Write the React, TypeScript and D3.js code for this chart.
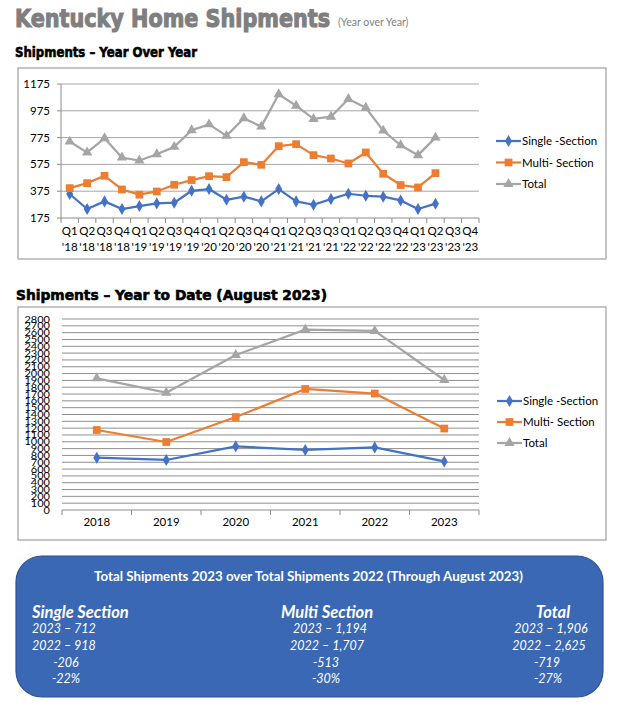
import * as d3 from "d3";

const QUARTERS = ["Q1", "Q2", "Q3", "Q4", "Q1", "Q2", "Q3", "Q4", "Q1", "Q2", "Q3", "Q4", "Q1", "Q2", "Q3", "Q3", "Q1", "Q2", "Q3", "Q4", "Q1", "Q2", "Q3", "Q4"];
const QUARTER_YEARS = ["'18", "'18", "'18", "'18", "'19", "'19", "'19", "'19", "'20", "'20", "'20", "'20", "'21", "'21", "'21", "'21", "'22", "'22", "'22", "'22", "'23", "'23", "'23", "'23"];

const Q_SINGLE = [354, 242, 299, 242, 264, 284, 289, 378, 391, 311, 334, 299, 391, 299, 274, 316, 356, 341, 334, 306, 242, 282];
const Q_MULTI = [398, 435, 490, 388, 349, 373, 423, 458, 487, 480, 592, 572, 711, 726, 644, 619, 582, 664, 505, 421, 403, 510];
const Q_TOTAL = [745, 664, 770, 626, 604, 651, 706, 830, 874, 788, 919, 857, 1098, 1013, 914, 931, 1063, 998, 827, 718, 644, 775];
const Q_TICKS = [175, 375, 575, 775, 975, 1175];

const YEARS = ["2018", "2019", "2020", "2021", "2022", "2023"];
const YTD_SINGLE = [767, 733, 933, 880, 918, 712];
const YTD_MULTI = [1173, 997, 1363, 1774, 1707, 1194];
const YTD_TOTAL = [1930, 1720, 2272, 2644, 2625, 1906];
const YTD_TICKS = d3.range(0, 2801, 100);

const SERIES_NAMES = ["Single -Section", "Multi- Section", "Total"];
const COLORS = ["#4472c4", "#ed7d31", "#a5a5a5"];
const SYMBOLS = [d3.symbolDiamond, d3.symbolSquare, d3.symbolTriangle];
const SYMBOL_SIZES = [42, 60, 46];

const SUMMARY_TITLE = "Total Shipments 2023 over Total Shipments 2022 (Through August 2023)";
const SUMMARY_HEADS = ["Single Section", "Multi Section", "Total"];
const SUMMARY_ROWS = [
  ["2023 – 712", "2022 – 918", "-206", "-22%"],
  ["2023 – 1,194", "2022 – 1,707", "-513", "-30%"],
  ["2023 – 1,906", "2022 – 2,625", "-719", "-27%"],
];

const FONT = "Lato, 'Open Sans', sans-serif";
const HEAVY = "'DejaVu Sans', sans-serif";
const GRID = "#a6a6a6";
const AXIS = "#8c8c8c";

function Marker({ i, x, y }: { i: number; x: number; y: number }) {
  const d = d3.symbol(SYMBOLS[i], SYMBOL_SIZES[i])() ?? "";
  return <path d={d} transform={`translate(${x},${y})`} fill={COLORS[i]} />;
}

function Legend({ x, y0, gap }: { x: number; y0: number; gap: number }) {
  return (
    <g>
      {SERIES_NAMES.map((name, i) => {
        const y = y0 + i * gap;
        return (
          <g key={name}>
            <line x1={x} x2={x + 25} y1={y} y2={y} stroke={COLORS[i]} strokeWidth={2.25} />
            <Marker i={i} x={x + 12.5} y={y} />
            <text x={x + 26} y={y + 4} fontSize={11.5} fontFamily={FONT} fill="#000">
              {name}
            </text>
          </g>
        );
      })}
    </g>
  );
}

function QuarterChart() {
  const left = 61;
  const right = 479;
  const top = 84;
  const bottom = 218;
  const idx = QUARTERS.map((_, i) => String(i));
  const x = d3.scaleBand().domain(idx).range([left, right]);
  const y = d3.scaleLinear().domain([175, 1175]).range([bottom, top]);
  const cx = (i: number) => (x(String(i)) ?? 0) + x.bandwidth() / 2;
  const series = [Q_SINGLE, Q_MULTI, Q_TOTAL];
  const line = d3
    .line<number>()
    .x((_, i) => cx(i))
    .y((v) => y(v));

  return (
    <g>
      <rect x={18} y={68} width={588} height={191} fill="#fff" stroke="#8c8c8c" strokeWidth={1} />
      {Q_TICKS.map((t) => (
        <g key={t}>
          <line x1={left} x2={right} y1={y(t)} y2={y(t)} stroke={t === 175 ? AXIS : GRID} strokeWidth={1} />
          <line x1={left - 4} x2={left} y1={y(t)} y2={y(t)} stroke={AXIS} />
          <text x={50} y={y(t) + 4} textAnchor="end" fontSize={11.5} fontFamily={FONT}>
            {t}
          </text>
        </g>
      ))}
      <line x1={left} x2={left} y1={top} y2={bottom} stroke={AXIS} />
      {d3.range(QUARTERS.length + 1).map((i) => {
        const tx = left + i * x.bandwidth();
        return <line key={i} x1={tx} x2={tx} y1={bottom} y2={bottom + 5} stroke={AXIS} />;
      })}
      {QUARTERS.map((q, i) => (
        <text key={i} x={cx(i)} textAnchor="middle" fontSize={11.5} fontFamily={FONT}>
          <tspan x={cx(i)} y={235}>{q}</tspan>
          <tspan x={cx(i)} y={251}>{QUARTER_YEARS[i]}</tspan>
        </text>
      ))}
      {series.map((vals, s) => (
        <g key={s}>
          <path d={line(vals) ?? ""} fill="none" stroke={COLORS[s]} strokeWidth={2.25} strokeLinejoin="round" />
          {vals.map((v, i) => (
            <Marker key={i} i={s} x={cx(i)} y={y(v)} />
          ))}
        </g>
      ))}
      <Legend x={496} y0={141} gap={21.5} />
    </g>
  );
}

function YtdChart() {
  const left = 62;
  const right = 479;
  const top = 319;
  const bottom = 510;
  const x = d3.scaleBand().domain(YEARS).range([left, right]);
  const y = d3.scaleLinear().domain([0, 2800]).range([bottom, top]);
  const cx = (yr: string) => (x(yr) ?? 0) + x.bandwidth() / 2;
  const series = [YTD_SINGLE, YTD_MULTI, YTD_TOTAL];
  const line = d3
    .line<number>()
    .x((_, i) => cx(YEARS[i]))
    .y((v) => y(v));

  return (
    <g>
      <rect x={18} y={307} width={588} height={233} fill="#fff" stroke="#8c8c8c" strokeWidth={1} />
      {YTD_TICKS.map((t) => (
        <g key={t}>
          <line x1={left} x2={right} y1={y(t)} y2={y(t)} stroke={t === 0 ? AXIS : "#8f8f8f"} strokeWidth={1} />
          {/* labels are packed tighter than their height, as in the source */}
          <text
            transform={`translate(50,${y(t) + 3.5}) scale(1,0.88)`}
            textAnchor="end"
            fontSize={11}
            fontFamily={FONT}
          >
            {t}
          </text>
        </g>
      ))}
      {d3.range(YEARS.length + 1).map((i) => {
        const tx = left + i * x.bandwidth();
        return <line key={i} x1={tx} x2={tx} y1={bottom} y2={bottom + 5} stroke={AXIS} />;
      })}
      {YEARS.map((yr) => (
        <text key={yr} x={cx(yr)} y={526} textAnchor="middle" fontSize={11.5} fontFamily={FONT}>
          {yr}
        </text>
      ))}
      {series.map((vals, s) => (
        <g key={s}>
          <path d={line(vals) ?? ""} fill="none" stroke={COLORS[s]} strokeWidth={2.25} strokeLinejoin="round" />
          {vals.map((v, i) => (
            <Marker key={i} i={s} x={cx(YEARS[i])} y={y(v)} />
          ))}
        </g>
      ))}
      <Legend x={497} y0={401} gap={21} />
    </g>
  );
}

function Summary() {
  const rowY = [633, 650, 667, 683];
  // per-column placement of the lines, as laid out in the source document
  const colX = [
    [32, 32, 66, 66],
    [330, 327, 326, 326],
    [551, 549, 547, 548],
  ];
  return (
    <g>
      <rect x={16} y={556} width={587} height={141} rx={26} fill="#3a68b5" stroke="#2f528f" strokeWidth={1.2} />
      <text
        x={94}
        y={581}
        fill="#fff"
        fontSize={12.8}
        fontWeight="bold"
        fontFamily={FONT}
        textLength={429}
        lengthAdjust="spacingAndGlyphs"
      >
        {SUMMARY_TITLE}
      </text>
      {SUMMARY_HEADS.map((h, c) => (
        <text
          key={h}
          x={c === 0 ? 32 : c === 1 ? 327 : 553}
          y={618}
          textAnchor={c === 0 ? "start" : "middle"}
          fill="#fff"
          fontSize={16.5}
          fontWeight="bold"
          fontStyle="italic"
          fontFamily={FONT}
        >
          {h}
        </text>
      ))}
      {SUMMARY_ROWS.map((rows, c) =>
        rows.map((r, k) => (
          <text
            key={`${c}-${k}`}
            x={colX[c][k]}
            y={rowY[k]}
            textAnchor={c === 0 && k < 2 ? "start" : "middle"}
            fill="#fff"
            fontSize={12.5}
            fontStyle="italic"
            fontFamily={FONT}
          >
            {r}
          </text>
        ))
      )}
    </g>
  );
}

export default function App() {
  return (
    <svg width={626} height={711} style={{ position: "absolute", left: 0, top: 0, background: "#fff" }}>
      <text
        transform="translate(15,27) scale(1,1.14)"
        fill="#7f7f7f"
        stroke="#7f7f7f"
        strokeWidth={1}
        fontSize={21}
        fontWeight="bold"
        fontFamily={HEAVY}
        textLength={315}
        lengthAdjust="spacingAndGlyphs"
      >
        Kentucky Home Shipments
      </text>
      <text x={338} y={26} fill="#7f7f7f" fontSize={10.5} fontFamily={FONT}>
        (Year over Year)
      </text>
      <text
        x={15}
        y={57}
        stroke="#000"
        strokeWidth={0.6}
        fontSize={13.5}
        fontWeight="bold"
        fontFamily={HEAVY}
        textLength={182}
        lengthAdjust="spacingAndGlyphs"
      >
        Shipments – Year Over Year
      </text>
      <text
        x={16}
        y={300}
        stroke="#000"
        strokeWidth={0.6}
        fontSize={13.5}
        fontWeight="bold"
        fontFamily={HEAVY}
        textLength={311}
        lengthAdjust="spacingAndGlyphs"
      >
        Shipments – Year to Date (August 2023)
      </text>
      <QuarterChart />
      <YtdChart />
      <Summary />
    </svg>
  );
}
